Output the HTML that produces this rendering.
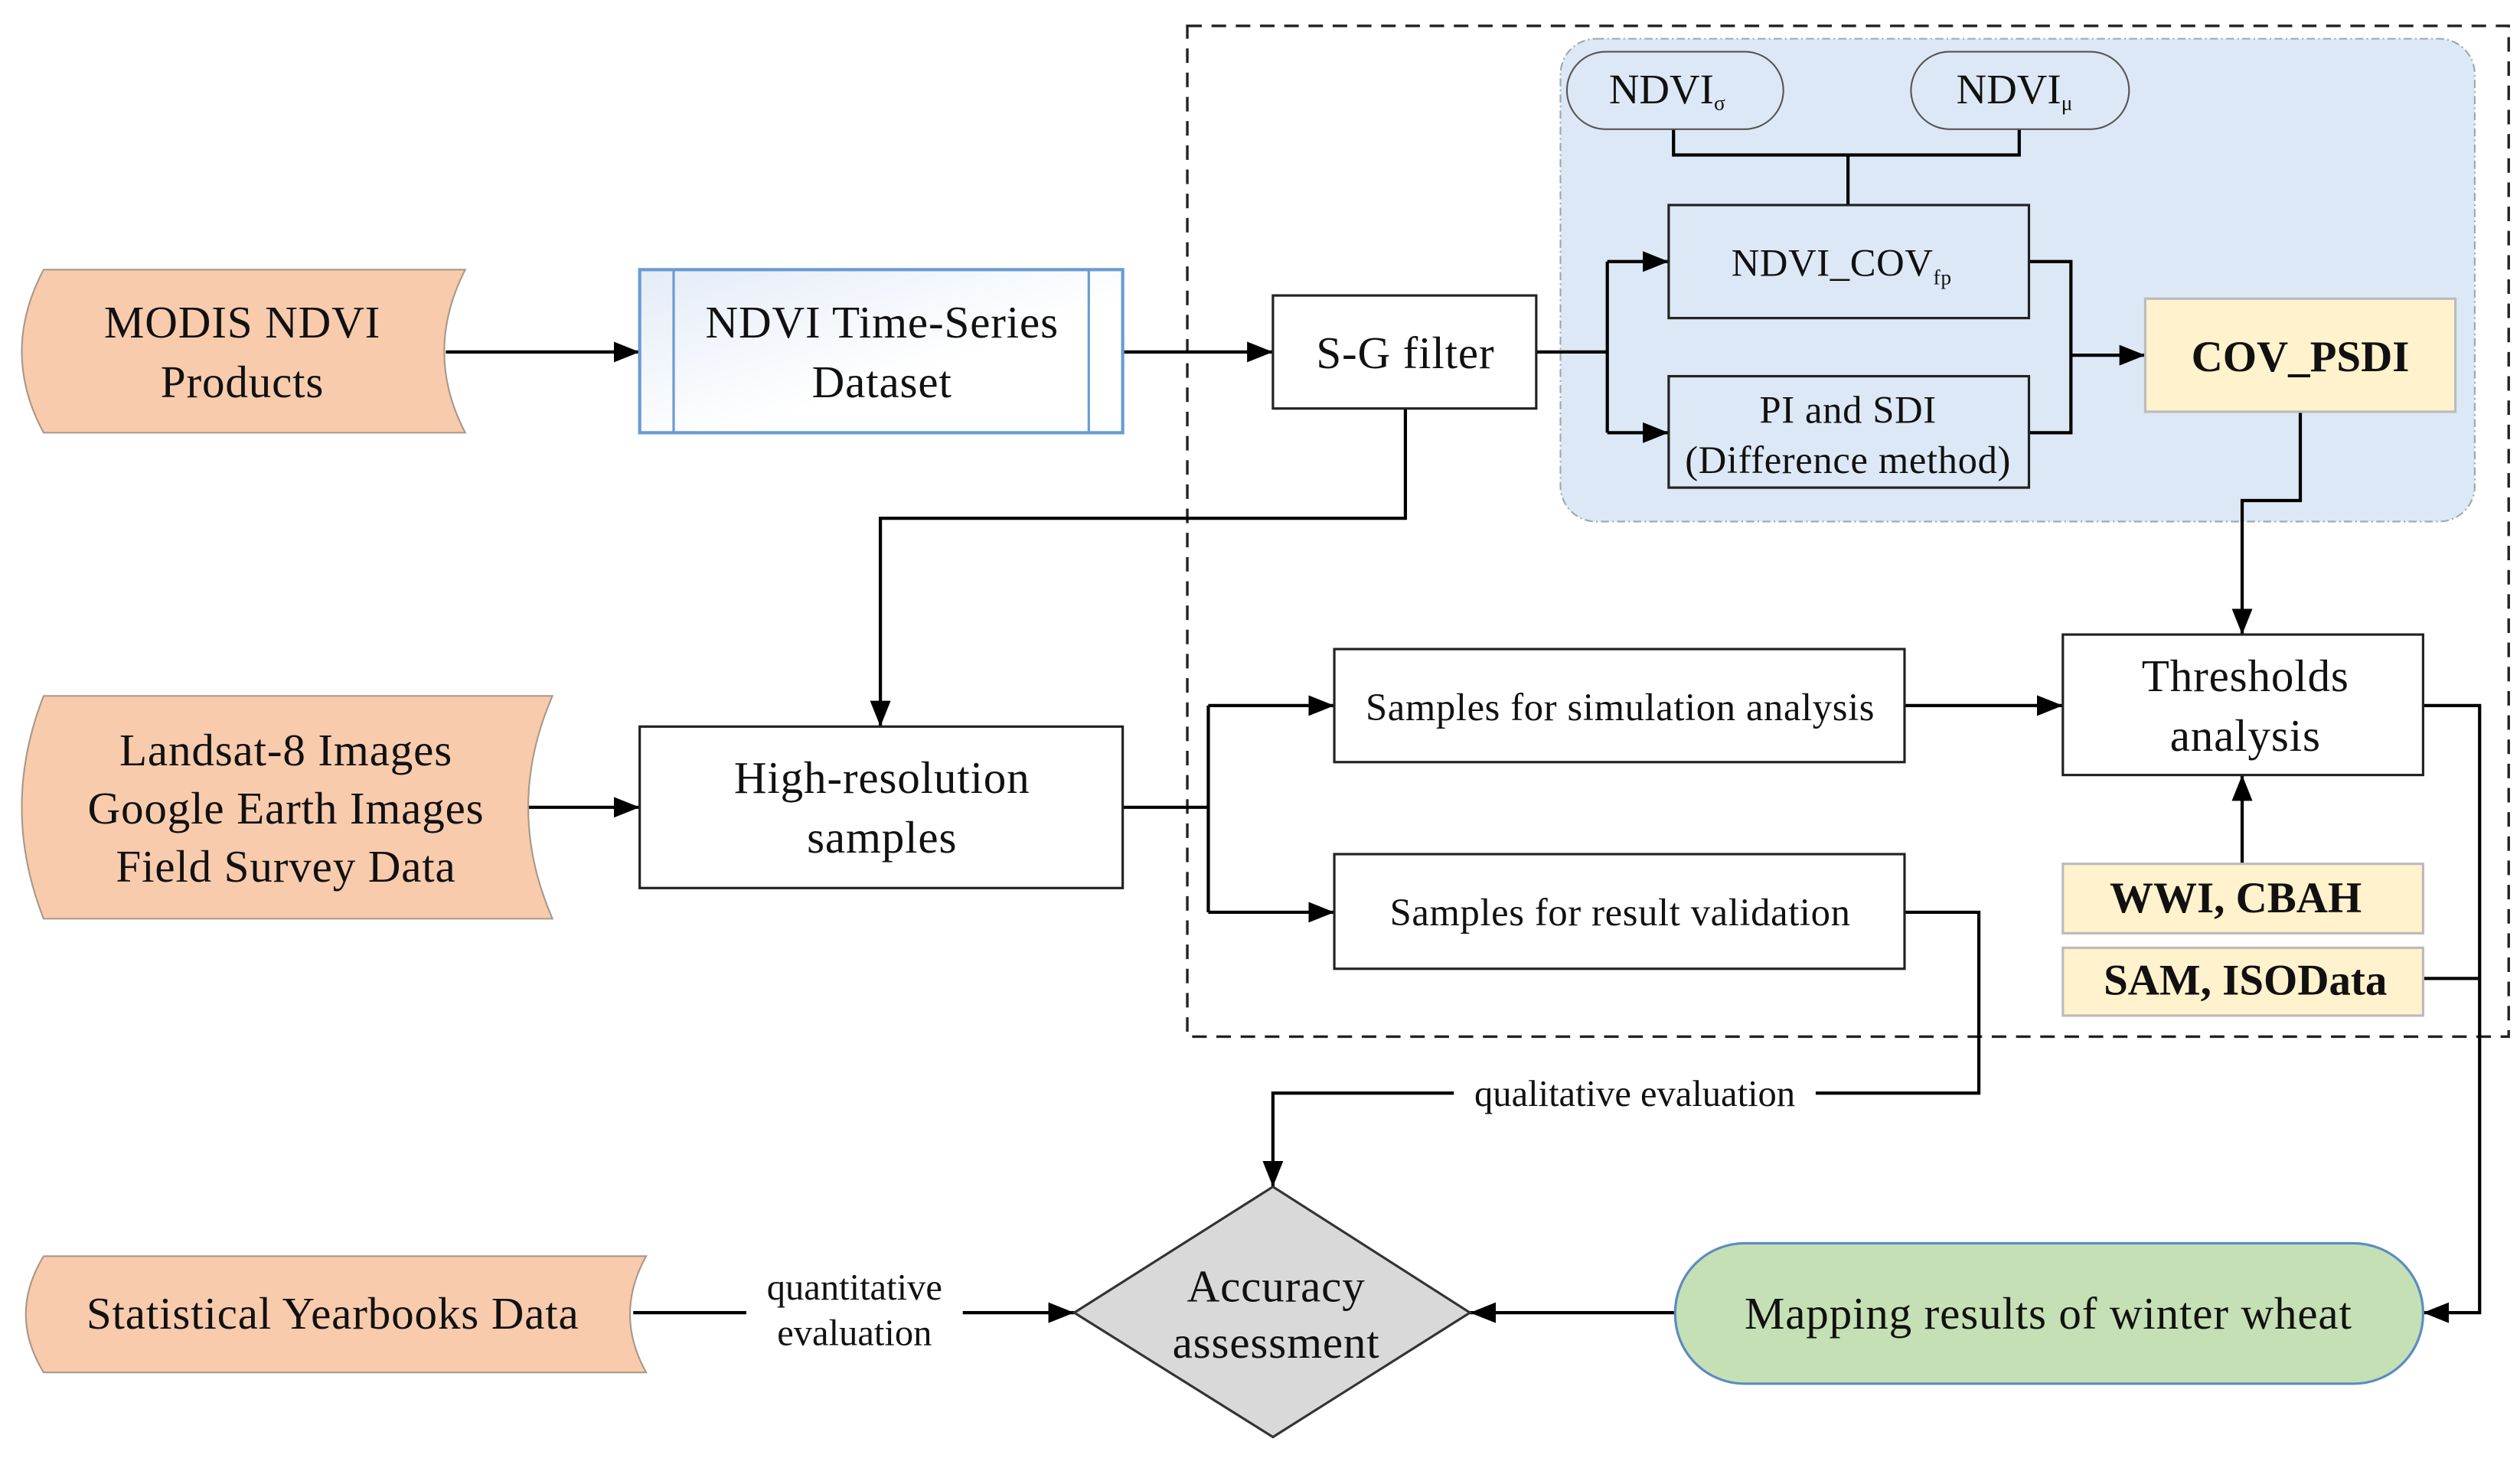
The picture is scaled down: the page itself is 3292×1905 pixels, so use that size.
<!DOCTYPE html>
<html><head><meta charset="utf-8"><style>
html,body{margin:0;padding:0;background:#fff}
svg{display:block}
text{font-family:"Liberation Serif","DejaVu Serif",serif;fill:#111}
</style></head><body>
<svg width="3292" height="1905" viewBox="0 0 1560 903" preserveAspectRatio="none" xmlns="http://www.w3.org/2000/svg" font-family="Liberation Serif, DejaVu Serif, serif">
<defs>
<marker id="b" viewBox="0 0 10 10" refX="10" refY="5" markerWidth="16" markerHeight="16" orient="auto" markerUnits="userSpaceOnUse"><path d="M0,1 L10,5 L0,9 z" fill="#000"/></marker>
<linearGradient id="g" x1="0" y1="0" x2="1" y2="1"><stop offset="0" stop-color="#e4ecf8"/><stop offset="0.6" stop-color="#fff"/></linearGradient>
</defs>
<rect x="735" y="16" width="818" height="626" fill="none" stroke="#222" stroke-width="1.6" stroke-dasharray="9,6"/>
<rect x="966" y="24" width="566" height="299" rx="22" fill="#dce8f5" stroke="#9aa" stroke-width="1" stroke-dasharray="5,2,1,2"/>
<g stroke="#000" stroke-width="2" fill="none">
<path d="M1036,80 V96 H1250 V80 M1144,96 V127"/>
<path d="M951,218 H995 M995,162 V268"/>
<path d="M995,162 H1033" marker-end="url(#b)"/>
<path d="M995,268 H1033" marker-end="url(#b)"/>
<path d="M1256,162 H1282 V268 H1256"/>
<path d="M1282,220 H1328" marker-end="url(#b)"/>
<path d="M1424,255 V310 H1388 V393" marker-end="url(#b)"/>
<path d="M1388,535 V480" marker-end="url(#b)"/>
<path d="M1500,606 H1535"/>
<path d="M1500,437 H1535 V813 H1500" marker-end="url(#b)"/>
<path d="M1179,437 H1277" marker-end="url(#b)"/>
<path d="M695,500 H748 M748,437 V565"/>
<path d="M748,437 H826" marker-end="url(#b)"/>
<path d="M748,565 H826" marker-end="url(#b)"/>
<path d="M1179,565 H1225 V677 H788 V735" marker-end="url(#b)"/>
<path d="M1037,813 H910" marker-end="url(#b)"/>
<path d="M392,813 H665" marker-end="url(#b)"/>
<path d="M276,218 H396" marker-end="url(#b)"/>
<path d="M695,218 H788" marker-end="url(#b)"/>
<path d="M870,253 V321 H545 V450" marker-end="url(#b)"/>
<path d="M325,500 H396" marker-end="url(#b)"/>
</g>
<rect x="970" y="32" width="134" height="48" rx="24" fill="#dce8f5" stroke="#555" stroke-width="1"/>
<rect x="1183" y="32" width="135" height="48" rx="24" fill="#dce8f5" stroke="#555" stroke-width="1"/>
<text x="1032" y="64" font-size="26" text-anchor="middle">NDVI<tspan font-size="13" dy="4">σ</tspan></text>
<text x="1247" y="64" font-size="26" text-anchor="middle">NDVI<tspan font-size="13" dy="4">μ</tspan></text>
<g stroke="#222" stroke-width="1.5">
<rect x="1033" y="127" width="223" height="70" fill="#dce8f5"/>
<rect x="1033" y="233" width="223" height="69" fill="#dce8f5"/>
<rect x="788" y="183" width="163" height="70" fill="#fff"/>
<rect x="1328" y="185" width="192" height="70" fill="#fff2cc" stroke="#bbb"/>
<rect x="1277" y="393" width="223" height="87" fill="#fff"/>
<rect x="1277" y="535" width="223" height="43" fill="#fff2cc" stroke="#bbb"/>
<rect x="1277" y="587" width="223" height="42" fill="#fff2cc" stroke="#bbb"/>
<rect x="826" y="402" width="353" height="70" fill="#fff"/>
<rect x="826" y="529" width="353" height="71" fill="#fff"/>
<rect x="396" y="450" width="299" height="100" fill="#fff"/>
</g>
<rect x="396" y="167" width="299" height="101" fill="url(#g)" stroke="#6b9bd2" stroke-width="2"/>
<path d="M417,167 V268 M674,167 V268" stroke="#6b9bd2" stroke-width="1.5"/>
<polygon points="788,735 910,813 788,890 665,813" fill="#d9d9d9" stroke="#333" stroke-width="1.5"/>
<rect x="1037" y="770" width="463" height="87" rx="43" fill="#c5e0b4" stroke="#5b8bc4" stroke-width="1.5"/>
<g fill="#f8cbad" stroke="#a89888" stroke-width="1">
<path d="M27,167 H288 Q262,218 288,268 H27 Q0,218 27,167 z"/>
<path d="M27,431 H342 Q312,500 342,569 H27 Q0,500 27,431 z"/>
<path d="M27,778 H400 Q380,814 400,850 H27 Q5,814 27,778 z"/>
</g>
<g font-size="28" text-anchor="middle" letter-spacing="0.4">
<text x="150" y="209">MODIS NDVI</text>
<text x="150" y="246">Products</text>
<text x="177" y="474">Landsat-8 Images</text>
<text x="177" y="510">Google Earth Images</text>
<text x="177" y="546">Field Survey Data</text>
<text x="206" y="823">Statistical Yearbooks Data</text>
<text x="546" y="209">NDVI Time-Series</text>
<text x="546" y="246">Dataset</text>
<text x="870" y="228">S-G filter</text>
<text x="546" y="491">High-resolution</text>
<text x="546" y="528">samples</text>
<text x="1390" y="428">Thresholds</text>
<text x="1390" y="465">analysis</text>
<text x="790" y="806">Accuracy</text>
<text x="790" y="841">assessment</text>
<text x="1268" y="823">Mapping results of winter wheat</text>
</g>
<g font-size="24" text-anchor="middle" letter-spacing="0.3">
<text x="1140" y="171">NDVI_COV<tspan font-size="13" dy="5">fp</tspan></text>
<text x="1144" y="262">PI and SDI</text>
<text x="1144" y="293">(Difference method)</text>
<text x="1003" y="446">Samples for simulation analysis</text>
<text x="1003" y="573">Samples for result validation</text>
</g>
<g font-size="27" font-weight="bold" text-anchor="middle">
<text x="1424" y="230">COV_PSDI</text>
<text x="1384" y="565">WWI,   CBAH</text>
<text x="1390" y="616">SAM,  ISOData</text>
</g>
<rect x="900" y="664" width="224" height="26" fill="#fff"/>
<text x="1012" y="685" font-size="23" text-anchor="middle">qualitative evaluation</text>
<rect x="462" y="784" width="134" height="56" fill="#fff"/>
<text x="529" y="805" font-size="23" text-anchor="middle">quantitative</text>
<text x="529" y="833" font-size="23" text-anchor="middle">evaluation</text>
</svg>
</body></html>
